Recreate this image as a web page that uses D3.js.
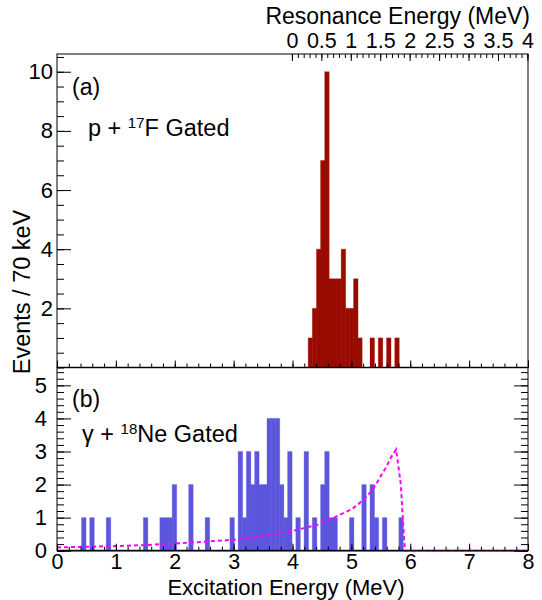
<!DOCTYPE html>
<html><head><meta charset="utf-8">
<script src="https://cdn.jsdelivr.net/npm/d3@7"></script>
<style>
body{margin:0;background:#fff}
text{font-family:"Liberation Sans",Arial,Helvetica,sans-serif;fill:#000}
</style>
</head><body>
<svg id="c" width="542" height="600"></svg>
<script>
// ---- data ----
const binWidth = 0.07; // MeV per bin (70 keV)
const aFirstBin = 61;
const aCounts = [1,2,4,7,10,3,3,3,4,2,2,3,1,0,0,1,0,1,0,1,0,1];
const bBins   = [6,8,12,21,25,26,27,28,32,36,42,44,45,46,47,48,49,50,51,52,53,54,55,56,58,60,62,64,65,66,67,71,74,76,77,79,83];
const bCounts = [1,1,1,1,1,1,1,2,2,1,1,3,1,3,2,3,2,2,4,4,4,2,1,3,1,3,1,2,3,1,1,1,2,2,1,1,1];
const fitE = [0,0.5,1.0,1.5,2.0,2.5,3.0,3.5,3.8,4.1,4.45,4.7,5.0,5.1,5.27,5.4,5.5,5.6,5.67,5.76,5.84,5.88,5.91,8.0];
const fitY = [0.10,0.12,0.14,0.17,0.22,0.27,0.33,0.44,0.53,0.64,0.80,1.0,1.25,1.38,1.65,1.95,2.26,2.55,2.81,3.06,2.0,0.8,0.0,0.0];
const xTicks = [0,1,2,3,4,5,6,7,8];
const erTicks = [0,0.5,1,1.5,2,2.5,3,3.5,4];
const aYTicks = [2,4,6,8,10];
const bYTicks = [0,1,2,3,4,5];
const erOffset = 3.99; // Ex = Er + offset

// ---- layout ----
const L = 57, R = 528, TOP = 54, MID = 367.5, BOT = 550.7;
const svg = d3.select("#c");
const x = d3.scaleLinear().domain([0,8]).range([L,R]);
const yA = d3.scaleLinear().domain([0,10.6]).range([MID,TOP]);
const yB = d3.scaleLinear().domain([0,5.54]).range([BOT,MID]);
const xTop = d3.scaleLinear().domain([0,4]).range([x(erOffset), x(erOffset+4)]);

const aData = aCounts.map((c,i)=>({bin:aFirstBin+i, c}));
const bData = bBins.map((b,i)=>({bin:b, c:bCounts[i]}));

function drawHist(data, y, fill, edge){
  const g = svg.append("g");
  const nz = data.filter(d=>d.c>0);
  g.selectAll("rect.rim").data(nz).join("rect").attr("class","rim")
    .attr("x", d=>x(d.bin*binWidth)-0.7).attr("width", d=>x((d.bin+1)*binWidth)-x(d.bin*binWidth)+1.4)
    .attr("y", d=>y(d.c)-0.6).attr("height", d=>y(0)-y(d.c)+0.6)
    .attr("fill",edge);
  g.selectAll("rect.bar").data(nz).join("rect").attr("class","bar")
    .attr("x", d=>x(d.bin*binWidth)-0.2).attr("width", d=>x((d.bin+1)*binWidth)-x(d.bin*binWidth)+0.4)
    .attr("y", d=>y(d.c)).attr("height", d=>y(0)-y(d.c))
    .attr("fill",fill);
}
drawHist(aData, yA, "#990a00", "#e9b8b2");
drawHist(bData, yB, "#5b56db", "#cfcdf5");

// baselines (histogram outlines along zero)
svg.append("line").attr("x1",L).attr("x2",R).attr("y1",MID).attr("y2",MID).attr("stroke","#3a0d0d").attr("stroke-width",1.5);
svg.append("line").attr("x1",L).attr("x2",R).attr("y1",BOT).attr("y2",BOT).attr("stroke","#1e1e4e").attr("stroke-width",1.8);

// fit curve
svg.append("path").datum(fitE.map((e,i)=>[e,fitY[i]]))
  .attr("d", d3.line().x(d=>x(d[0])).y(d=>yB(d[1])))
  .attr("fill","none").attr("stroke","#ff00ff").attr("stroke-width",2).attr("stroke-dasharray","4,3");

// frames
svg.append("rect").attr("x",L).attr("y",TOP).attr("width",R-L).attr("height",MID-TOP).attr("fill","none").attr("stroke","#000").attr("stroke-width",1);
svg.append("rect").attr("x",L).attr("y",MID).attr("width",R-L).attr("height",BOT-MID).attr("fill","none").attr("stroke","#000").attr("stroke-width",1);

const fs = 22;
function style(g, size){
  g.select(".domain").remove();
  g.selectAll("line").attr("stroke","#000").attr("stroke-width",1);
  g.selectAll("text").attr("font-size", size||fs).attr("font-family",'"Liberation Sans",Arial,sans-serif').attr("fill","#000");
  return g;
}
const range = (a,b,s)=>d3.range(Math.round((b-a)/s)+1).map(i=>+(a+i*s).toFixed(4));

// panel b bottom axis
style(svg.append("g").attr("transform",`translate(0,${BOT})`)
  .call(d3.axisBottom(x).tickValues(range(0,8,0.2)).tickSize(-4).tickFormat("")));
style(svg.append("g").attr("transform",`translate(0,${BOT})`)
  .call(d3.axisBottom(x).tickValues(xTicks).tickSize(-7).tickPadding(3).tickFormat(d3.format("d"))), 21.5);
// panel a bottom ticks
style(svg.append("g").attr("transform",`translate(0,${MID})`)
  .call(d3.axisBottom(x).tickValues(range(0,8,0.2)).tickSize(-4).tickFormat("")));
style(svg.append("g").attr("transform",`translate(0,${MID})`)
  .call(d3.axisBottom(x).tickValues(xTicks).tickSize(-7).tickFormat("")));
// top Er axis
style(svg.append("g").attr("transform",`translate(0,${TOP})`)
  .call(d3.axisTop(xTop).tickValues(range(0,4,0.1)).tickSize(-4).tickFormat("")));
style(svg.append("g").attr("transform",`translate(0,${TOP})`)
  .call(d3.axisTop(xTop).tickValues(erTicks).tickSize(-7).tickPadding(6).tickFormat(d3.format("~g"))), 21.5);
// panel a left
style(svg.append("g").attr("transform",`translate(${L},0)`)
  .call(d3.axisLeft(yA).tickValues(range(0,10.5,0.5)).tickSize(-7).tickFormat("")));
style(svg.append("g").attr("transform",`translate(${L},0)`)
  .call(d3.axisLeft(yA).tickValues(aYTicks).tickSize(-14).tickPadding(4).tickFormat(d3.format("d"))));
// panel b left
style(svg.append("g").attr("transform",`translate(${L},0)`)
  .call(d3.axisLeft(yB).tickValues(range(0,5.4,0.2)).tickSize(-7).tickFormat("")));
style(svg.append("g").attr("transform",`translate(${L},0)`)
  .call(d3.axisLeft(yB).tickValues(bYTicks).tickSize(-14).tickPadding(10).tickFormat(d3.format("d"))));
// panel b right
style(svg.append("g").attr("transform",`translate(${R},0)`)
  .call(d3.axisRight(yB).tickValues(range(0,5.4,0.2)).tickSize(-7).tickFormat("")));
style(svg.append("g").attr("transform",`translate(${R},0)`)
  .call(d3.axisRight(yB).tickValues(bYTicks).tickSize(-14).tickFormat("")));

// titles
svg.append("text").attr("x",530).attr("y",23.5).attr("text-anchor","end").attr("font-size",23).text("Resonance Energy (MeV)");
svg.append("text").attr("x",286).attr("y",594.5).attr("text-anchor","middle").attr("font-size",22).text("Excitation Energy (MeV)");
svg.append("text").attr("transform","translate(30,292) rotate(-90)").attr("text-anchor","middle").attr("font-size",23.5).text("Events / 70 keV");

// panel labels
svg.append("text").attr("x",72).attr("y",95).attr("font-size",23).text("(a)");
const tA = svg.append("text").attr("x",88).attr("y",136).attr("font-size",23.5);
tA.append("tspan").text("p + ");
tA.append("tspan").attr("font-size",15).attr("dy",-8.5).text("17");
tA.append("tspan").attr("dy",8.5).text("F Gated");
svg.append("text").attr("x",72).attr("y",407).attr("font-size",23).text("(b)");
const tB = svg.append("text").attr("x",82).attr("y",442).attr("font-size",23.5);
tB.append("tspan").text("γ + ");
tB.append("tspan").attr("font-size",15).attr("dy",-8.5).text("18");
tB.append("tspan").attr("dy",8.5).text("Ne Gated");
</script>
</body></html>
